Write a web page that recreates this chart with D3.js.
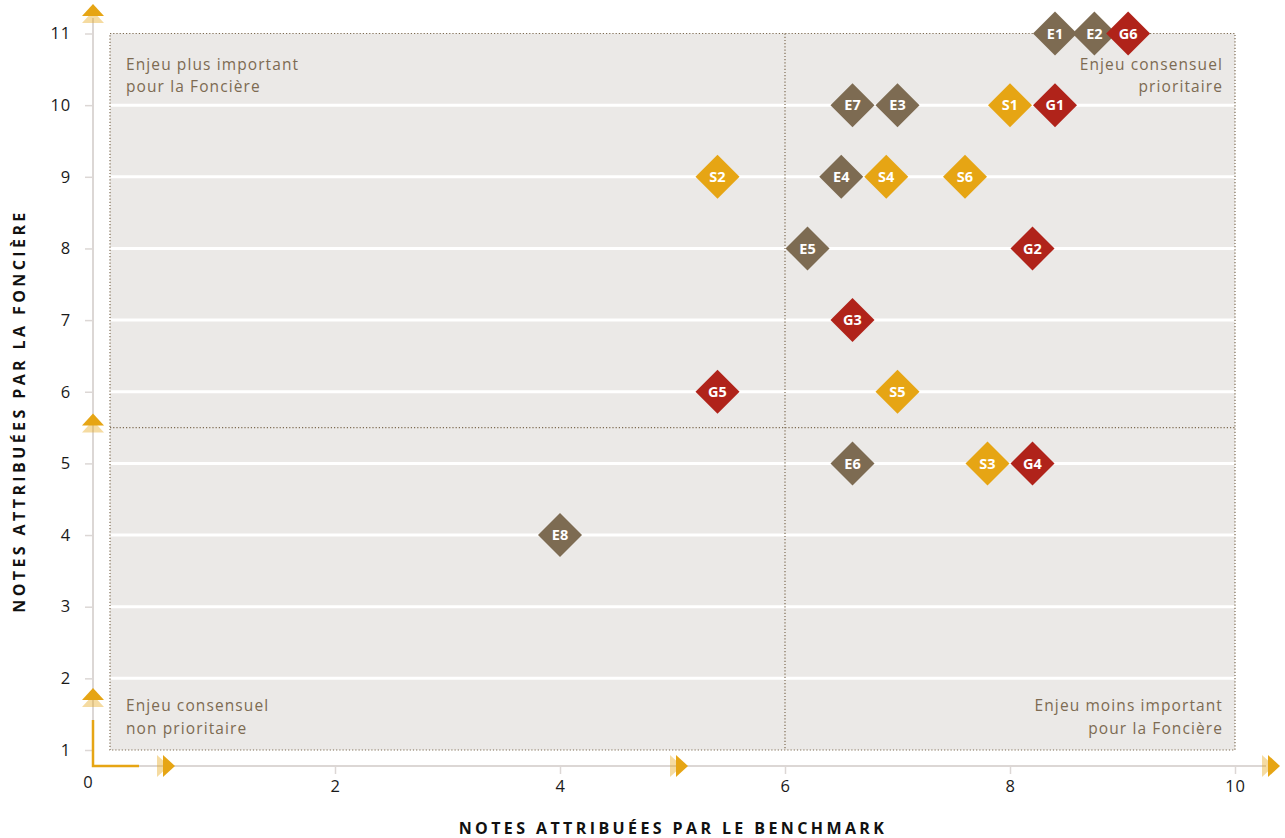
<!DOCTYPE html>
<html>
<head>
<meta charset="utf-8">
<script src="https://cdn.jsdelivr.net/npm/d3@7"></script>
<style>
  html, body { margin: 0; padding: 0; background: #ffffff; }
  svg { display: block; font-family: "Open Sans", "Noto Sans", sans-serif; }
</style>
</head>
<body>
<svg id="chart" width="1285" height="838"></svg>
<script>
// Materiality matrix: benchmark score (x) vs. score given by the Foncière (y)
const issueCodes   = ["E1","E2","G6","E7","E3","S1","G1","S2","E4","S4","S6","E5","G2","G3","G5","S5","E6","S3","G4","E8"];
const benchmarkVal = [8.4, 8.75, 9.05, 6.6, 7.0, 8.0, 8.4, 5.4, 6.5, 6.9, 7.6, 6.2, 8.2, 6.6, 5.4, 7.0, 6.6, 7.8, 8.2, 4.0];
const foncièreVal  = [11, 11, 11, 10, 10, 10, 10, 9, 9, 9, 9, 8, 8, 7, 6, 6, 5, 5, 5, 4];

const xTicks = [2, 4, 6, 8, 10];
const yTicks = [1, 2, 3, 4, 5, 6, 7, 8, 9, 10, 11];
const gridLines = [2, 3, 4, 5, 6, 7, 8, 9, 10];
const xSplit = 6, ySplit = 5.5;

const quadrantLabels = [
  { lines: ["Enjeu plus important", "pour la Foncière"], corner: "tl" },
  { lines: ["Enjeu consensuel", "prioritaire"], corner: "tr" },
  { lines: ["Enjeu consensuel", "non prioritaire"], corner: "bl" },
  { lines: ["Enjeu moins important", "pour la Foncière"], corner: "br" }
];

const pillarColor = { E: "#7d6b52", S: "#e6a514", G: "#b0231a" };
const accent = "#e6a514";

const svg = d3.select("#chart");
const x = d3.scaleLinear().domain([0, 10]).range([110, 1235]);
const y = d3.scaleLinear().domain([1, 11]).range([750, 33.5]);

const axisX = x(0) - 17;   // vertical axis line position
const axisY = y(1) + 16;   // horizontal axis line position

// plot background
svg.append("rect")
  .attr("x", x(0)).attr("y", y(11))
  .attr("width", x(10) - x(0)).attr("height", y(1) - y(11))
  .attr("fill", "#ebe9e7");

// white horizontal gridlines
svg.append("g").selectAll("line").data(gridLines).join("line")
  .attr("x1", x(0)).attr("x2", x(10))
  .attr("y1", d => y(d)).attr("y2", d => y(d))
  .attr("stroke", "#ffffff").attr("stroke-width", 3);

// dotted border and quadrant separators
const dotted = { stroke: "#7d6b52", "stroke-width": 1.2, "stroke-dasharray": "1.2,2" };
const border = svg.append("rect")
  .attr("x", x(0)).attr("y", y(11))
  .attr("width", x(10) - x(0)).attr("height", y(1) - y(11))
  .attr("fill", "none");
const vSep = svg.append("line").attr("x1", x(xSplit)).attr("x2", x(xSplit)).attr("y1", y(11)).attr("y2", y(1));
const hSep = svg.append("line").attr("x1", x(0)).attr("x2", x(10)).attr("y1", y(ySplit)).attr("y2", y(ySplit));
[border, vSep, hSep].forEach(s => Object.entries(dotted).forEach(([k, v]) => s.attr(k, v)));

// quadrant captions
const qg = svg.append("g").attr("font-size", 15.5).attr("letter-spacing", 1.1).attr("fill", "#7d6b52");
quadrantLabels.forEach(q => {
  const left = q.corner[1] === "l";
  const top = q.corner[0] === "t";
  const tx = left ? x(0) + 16 : x(10) - 12;
  const ty = top ? y(11) + 36 : y(1) - 39;
  const t = qg.append("text").attr("text-anchor", left ? "start" : "end");
  q.lines.forEach((l, i) => t.append("tspan").attr("x", tx).attr("y", ty + i * 22.5).text(l));
});

// axis lines
const axisColor = "#dcd7d5";
svg.append("line").attr("x1", axisX).attr("x2", axisX).attr("y1", 18).attr("y2", axisY)
  .attr("stroke", axisColor).attr("stroke-width", 2);
svg.append("line").attr("x1", axisX).attr("x2", 1266).attr("y1", axisY).attr("y2", axisY)
  .attr("stroke", axisColor).attr("stroke-width", 2);

// y axis ticks and labels
const yAxis = d3.axisLeft(y).tickValues(yTicks).tickSize(8).tickPadding(14).tickFormat(d3.format("d"));
const gy = svg.append("g").attr("transform", `translate(${axisX},0)`).call(yAxis);
gy.select(".domain").remove();
gy.selectAll(".tick line").attr("stroke", axisColor).attr("stroke-width", 1.5);
gy.selectAll(".tick text").attr("font-size", 16.5).attr("letter-spacing", 0.8).attr("fill", "#1a1a1a").attr("font-family", "Open Sans");

// x axis ticks and labels
const xAxis = d3.axisBottom(x).tickValues(xTicks).tickSize(8).tickPadding(6).tickFormat(d3.format("d"));
const gx = svg.append("g").attr("transform", `translate(0,${axisY})`).call(xAxis);
gx.select(".domain").remove();
gx.selectAll(".tick line").attr("stroke", axisColor).attr("stroke-width", 1.5);
gx.selectAll(".tick text").attr("font-size", 16.5).attr("letter-spacing", 0.8).attr("fill", "#1a1a1a").attr("font-family", "Open Sans");
svg.append("text").attr("x", axisX - 5).attr("y", axisY + 22).attr("text-anchor", "middle")
  .attr("font-size", 16.5).attr("fill", "#1a1a1a").text("0");

// orange origin corner
svg.append("path")
  .attr("d", `M${axisX},${axisY - 46} L${axisX},${axisY} L${axisX + 46},${axisY}`)
  .attr("fill", "none").attr("stroke", accent).attr("stroke-width", 2.5);

// double arrowheads along the axes
function upArrow(cx, tipY) {
  const g = svg.append("g");
  g.append("path").attr("d", `M${cx},${tipY + 7} L${cx + 11},${tipY + 19} L${cx - 11},${tipY + 19} Z`)
    .attr("fill", accent).attr("opacity", 0.4);
  g.append("path").attr("d", `M${cx},${tipY} L${cx + 11},${tipY + 12} L${cx - 11},${tipY + 12} Z`)
    .attr("fill", accent);
}
function rightArrow(tipX, cy) {
  const g = svg.append("g");
  g.append("path").attr("d", `M${tipX - 6},${cy} L${tipX - 18},${cy - 11} L${tipX - 18},${cy + 11} Z`)
    .attr("fill", accent).attr("opacity", 0.4);
  g.append("path").attr("d", `M${tipX},${cy} L${tipX - 12},${cy - 11} L${tipX - 12},${cy + 11} Z`)
    .attr("fill", accent);
}
upArrow(axisX, 4);
upArrow(axisX, y(ySplit) - 14);
upArrow(axisX, 688);
rightArrow(175, axisY);
rightArrow(688, axisY);
rightArrow(1280, axisY);

// axis titles
svg.append("text").attr("x", 673).attr("y", 834).attr("text-anchor", "middle")
  .attr("font-size", 16).attr("font-weight", 700).attr("letter-spacing", 3.4).attr("fill", "#111")
  .text("NOTES ATTRIBUÉES PAR LE BENCHMARK");
svg.append("text").attr("transform", "translate(25,411) rotate(-90)").attr("text-anchor", "middle")
  .attr("font-size", 16).attr("font-weight", 700).attr("letter-spacing", 3.4).attr("fill", "#111")
  .text("NOTES ATTRIBUÉES PAR LA FONCIÈRE");

// issue markers
const issues = issueCodes.map((c, i) => ({ code: c, bx: benchmarkVal[i], fy: foncièreVal[i] }));
const r = 22;
const mk = svg.append("g").selectAll("g").data(issues).join("g")
  .attr("transform", d => `translate(${x(d.bx)},${y(d.fy)})`);
mk.append("path").attr("d", `M0,${-r} L${r},0 L0,${r} L${-r},0 Z`)
  .attr("fill", d => pillarColor[d.code[0]]);
mk.append("text").attr("text-anchor", "middle").attr("dy", "0.36em")
  .attr("font-size", 14.5).attr("font-weight", 700).attr("fill", "#ffffff")
  .text(d => d.code);
</script>
</body>
</html>
